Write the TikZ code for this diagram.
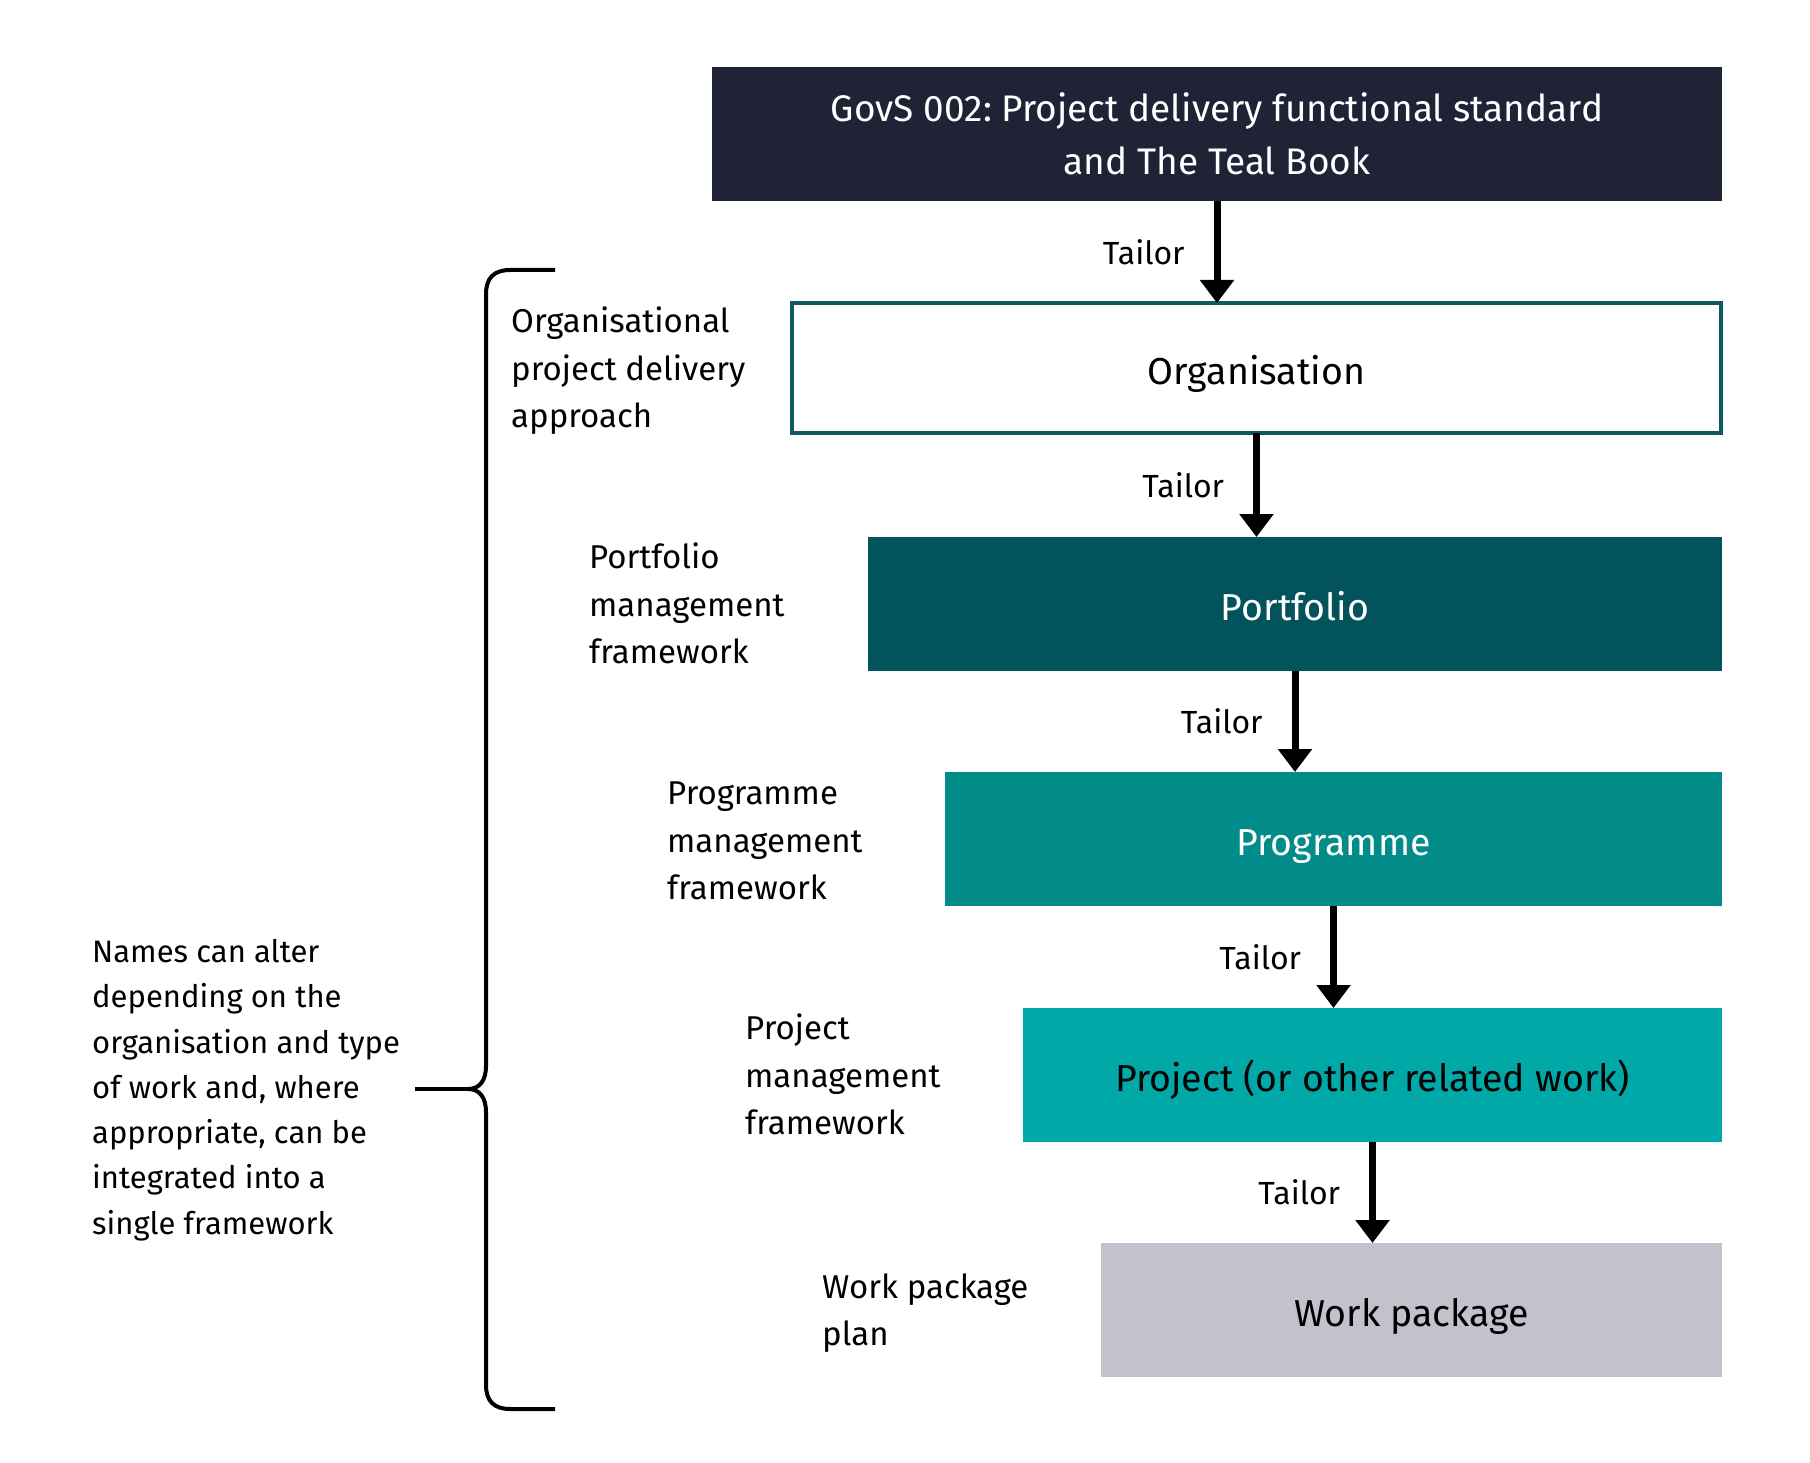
\documentclass[tikz,border=0pt]{standalone}
\usepackage{fontspec}
\setmainfont{Fira Sans}
\usetikzlibrary{arrows.meta}
\definecolor{navy}{HTML}{1F2335}
\definecolor{tealdark}{HTML}{02535B}
\definecolor{tealborder}{HTML}{0E5A61}
\definecolor{tealmid}{HTML}{018C89}
\definecolor{teallight}{HTML}{00A8A8}
\definecolor{greybox}{HTML}{C3C2CC}
\tikzset{
  box/.style={inner sep=0pt, outer sep=0pt, minimum height=134pt, align=center,
    text height=32pt, text depth=0pt, font=\fontsize{37.5}{53}\selectfont},
  arr/.style={line width=7pt, -{Triangle[width=33pt,length=23pt]}},
  tailor/.style={inner sep=0pt, anchor=east, font=\fontsize{32}{40}\selectfont},
  sidelabel/.style={inner sep=0pt, anchor=west, align=left, font=\fontsize{33}{47.5}\selectfont},
  bracket/.style={line width=4pt, line cap=butt}
}
\begin{document}
\frenchspacing
\begin{tikzpicture}[x=1pt,y=-1pt]
\useasboundingbox[fill=white] (0,0) rectangle (1810,1463);

\node[inner sep=0pt, outer sep=0pt, minimum height=134pt, align=center, fill=navy, text=white, minimum width=1010pt, font=\fontsize{37}{53}\selectfont] (top) at (1217,134)
  {GovS 002: Project delivery functional standard\\and The Teal Book};
\node[box, draw=tealborder, line width=4pt, fill=white, minimum width=929pt, minimum height=130pt] (org) at (1256.5,368) {Organisation};
\node[box, fill=tealdark, text=white, minimum width=854pt] (port) at (1295,604) {Portfolio};
\node[box, fill=tealmid, text=white, minimum width=777pt] (prog) at (1333.5,839) {Programme};
\node[box, fill=teallight, text=black, minimum width=699pt] (proj) at (1372.5,1075) {Project (or other related work)};
\node[box, fill=greybox, text=black, minimum width=621pt] (wp) at (1411.5,1310) {Work package};

\draw[arr] (top.south) -- (top.south |- org.north) node[tailor, midway, xshift=-29pt] (t1) {Tailor};
\draw[arr] (org.south) -- (org.south |- port.north) node[tailor, midway, xshift=-29pt] (t2) {Tailor};
\draw[arr] (port.south) -- (port.south |- prog.north) node[tailor, midway, xshift=-29pt] (t3) {Tailor};
\draw[arr] (prog.south) -- (prog.south |- proj.north) node[tailor, midway, xshift=-29pt] (t4) {Tailor};
\draw[arr] (proj.south) -- (proj.south |- wp.north) node[tailor, midway, xshift=-29pt] (t5) {Tailor};

\node[sidelabel] (l1) at (511,371) {Organisational\\project delivery\\approach};
\node[sidelabel] (l2) at (589,603.5) {Portfolio\\management\\framework};
\node[sidelabel] (l3) at (667,841) {Programme\\management\\framework};
\node[sidelabel] (l4) at (745,1074.5) {Project\\management\\framework};
\node[sidelabel] (l5) at (822,1313) {Work package\\plan};

\node[inner sep=0pt, anchor=west, align=left, font=\fontsize{31}{45.3}\selectfont] (note) at (92,1090)
  {Names can alter\\depending on the\\organisation and type\\of work and, where\\appropriate, can be\\integrated into a\\single framework};

\coordinate (cusp) at (468,1089);
\coordinate (stub) at (415,1089);
\draw[bracket] (555,270) -- (510,270) .. controls (494,270) and (486,278) .. (486,294)
  -- (486,1066) .. controls (486,1080) and (480,1089) .. (cusp)
  .. controls (480,1089) and (486,1098) .. (486,1112)
  -- (486,1385) .. controls (486,1401) and (494,1409) .. (510,1409) -- (555,1409);
\draw[bracket] (cusp) -- (stub);
\end{tikzpicture}
\end{document}
